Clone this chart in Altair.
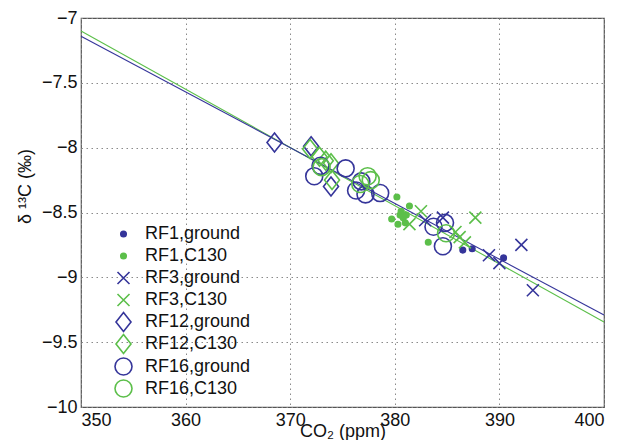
import altair as alt
import pandas as pd

BLUE = "#35359a"
GREEN = "#5cbf4a"

# ---- data ----
series_names = ["RF1,ground", "RF1,C130", "RF3,ground", "RF3,C130",
                "RF12,ground", "RF12,C130", "RF16,ground", "RF16,C130"]

rf1_ground_x = [386.5, 387.4, 390.4]
rf1_ground_y = [-8.79, -8.78, -8.85]

rf1_c130_x = [380.2, 381.4, 379.7, 380.5, 380.8, 380.3, 381.0, 381.1, 383.2, 380.6]
rf1_c130_y = [-8.38, -8.45, -8.55, -8.52, -8.54, -8.59, -8.58, -8.52, -8.73, -8.49]

rf3_ground_x = [382.9, 384.6, 389.0, 390.0, 392.1, 393.2]
rf3_ground_y = [-8.56, -8.54, -8.83, -8.89, -8.75, -9.10]

rf3_c130_x = [382.5, 387.7, 381.4, 385.8, 386.2, 386.7]
rf3_c130_y = [-8.49, -8.54, -8.59, -8.65, -8.69, -8.73]

rf12_ground_x = [368.5, 372.0, 373.9]
rf12_ground_y = [-7.96, -7.99, -8.30]

rf12_c130_x = [371.9, 372.8, 373.4, 373.9, 374.0]
rf12_c130_y = [-8.01, -8.07, -8.10, -8.12, -8.25]

rf16_ground_x = [372.3, 372.9, 375.3, 376.3, 376.8, 377.2, 378.6, 383.7, 384.8, 384.6]
rf16_ground_y = [-8.22, -8.14, -8.16, -8.33, -8.26, -8.36, -8.35, -8.61, -8.58, -8.76]

rf16_c130_x = [373.0, 376.7, 377.4, 377.7, 384.9]
rf16_c130_y = [-8.15, -8.28, -8.22, -8.25, -8.66]

fit_x = [350, 400]
fit_ground_y = [-7.14, -9.29]
fit_c130_y = [-7.10, -9.345]

x_ticks = [350, 360, 370, 380, 390, 400]
y_ticks = [-10, -9.5, -9, -8.5, -8, -7.5, -7]

# ---- build tables ----
all_x = [rf1_ground_x, rf1_c130_x, rf3_ground_x, rf3_c130_x,
         rf12_ground_x, rf12_c130_x, rf16_ground_x, rf16_c130_x]
all_y = [rf1_ground_y, rf1_c130_y, rf3_ground_y, rf3_c130_y,
         rf12_ground_y, rf12_c130_y, rf16_ground_y, rf16_c130_y]
rows = []
for name, xs, ys in zip(series_names, all_x, all_y):
    for xv, yv in zip(xs, ys):
        rows.append({"co2": xv, "d13c": yv, "series": name})
pts = pd.DataFrame(rows)

fits = pd.DataFrame(
    [{"co2": xv, "d13c": yv, "fit": "ground"} for xv, yv in zip(fit_x, fit_ground_y)]
    + [{"co2": xv, "d13c": yv, "fit": "C130"} for xv, yv in zip(fit_x, fit_c130_y)]
)

X_PATH = "M-1,-1L1,1M-1,1L1,-1"
DIAMOND_PATH = "M0,-1.1875L0.9375,0L0,1.1875L-0.9375,0Z"

color_range = [BLUE, GREEN] * 4
fill_range = [BLUE, GREEN] + ["transparent"] * 6
shape_range = ["circle", "circle", X_PATH, X_PATH,
               DIAMOND_PATH, DIAMOND_PATH, "circle", "circle"]
size_range = [30, 30, 144, 144, 256, 256, 289, 289]

xscale = alt.Scale(domain=[350, 400], nice=False, zero=False)
yscale = alt.Scale(domain=[-10, -7], nice=False, zero=False)

xaxis = alt.Axis(values=x_ticks, format="~g", title="CO₂ (ppm)",
                 labelPadding=4, titleY=29, titleBaseline="alphabetic",
                 grid=True, ticks=False, domain=False, labelOverlap=False,
                 labelBound=False)
yaxis = alt.Axis(values=y_ticks, format="~g", title="δ ¹³C (‰)",
                 labelPadding=4, titleAngle=270, titleX=-56, titleY=168,
                 titleAlign="center", titleBaseline="middle",
                 grid=True, ticks=False, domain=False, labelOverlap=False)

legend = alt.Legend(title=None, orient="none", legendX=33, legendY=207,
                    padding=0, rowPadding=-4, labelOffset=12, gridAlign="all",
                    symbolStrokeWidth=1.6, labelFontSize=18,
                    labelFont="Liberation Sans", labelColor="#111111",
                    symbolOffset=0)

points = alt.Chart(pts).mark_point(filled=False, strokeWidth=1.6, opacity=1).encode(
    x=alt.X("co2:Q", scale=xscale, axis=xaxis),
    y=alt.Y("d13c:Q", scale=yscale, axis=yaxis),
    color=alt.Color("series:N", scale=alt.Scale(domain=series_names, range=color_range), legend=legend),
    fill=alt.Fill("series:N", scale=alt.Scale(domain=series_names, range=fill_range), legend=legend),
    shape=alt.Shape("series:N", scale=alt.Scale(domain=series_names, range=shape_range), legend=legend),
    size=alt.Size("series:N", scale=alt.Scale(type="ordinal", domain=series_names, range=size_range), legend=legend),
)

line_ground = alt.Chart(fits).transform_filter(alt.datum.fit == "ground").mark_line(
    color=BLUE, strokeWidth=1.1).encode(
    x=alt.X("co2:Q", scale=xscale), y=alt.Y("d13c:Q", scale=yscale))
line_c130 = alt.Chart(fits).transform_filter(alt.datum.fit == "C130").mark_line(
    color=GREEN, strokeWidth=1.1).encode(
    x=alt.X("co2:Q", scale=xscale), y=alt.Y("d13c:Q", scale=yscale))

chart = alt.layer(line_c130, line_ground, points).properties(
    width=523, height=389,
    autosize=alt.AutoSizeParams(type="none"),
    padding={"left": 73, "top": 10, "right": 8, "bottom": 33},
    background="white",
).configure_view(
    stroke="#555555", strokeWidth=1.2
).configure_axis(
    labelFont="Liberation Sans", labelFontSize=18, labelColor="#111111",
    titleFont="Liberation Sans", titleFontSize=18, titleFontWeight="normal",
    titleColor="#111111",
    gridColor="#8a8a8a", gridDash=[1.5, 3.5], gridWidth=1, gridOpacity=1,
)

chart.save("out.html", embed_options={"renderer": "svg", "actions": False})
